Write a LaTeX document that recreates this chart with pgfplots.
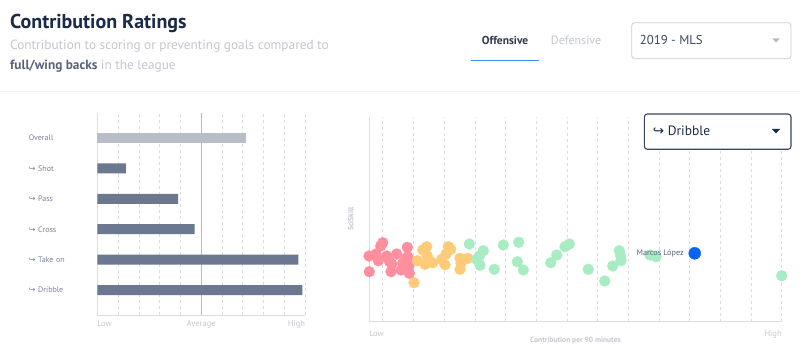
\documentclass[border=0pt]{standalone}
\usepackage{pgfplots}
\pgfplotsset{compat=1.18}
\usepackage{fontspec}
\setmainfont{PT Sans}
\newfontfamily\arrowfont{DejaVu Sans}
\newcommand{\hook}{{\arrowfont ↪}}
\definecolor{navy}{HTML}{1B2A47}
\definecolor{subgrey}{HTML}{C3C7D0}
\definecolor{boldgrey}{HTML}{5A6478}
\definecolor{labgrey}{HTML}{7B8499}
\definecolor{tickgrey}{HTML}{C3C7CF}
\definecolor{gridgrey}{HTML}{DADDE3}
\definecolor{avggrey}{HTML}{B5B9C2}
\definecolor{barslate}{HTML}{6B7890}
\definecolor{barlight}{HTML}{B8BDC8}
\definecolor{ptred}{HTML}{FF8F9F}
\definecolor{ptorange}{HTML}{FFCB78}
\definecolor{ptgreen}{HTML}{A8ECC4}
\definecolor{ptblue}{HTML}{0B63F6}
\definecolor{tabblue}{HTML}{3D8EF8}
\definecolor{boxborder}{HTML}{C8CDD8}
\definecolor{darkbox}{HTML}{3A4660}
\definecolor{sepgrey}{HTML}{F0F1F3}
\begin{document}
\begin{tikzpicture}[x=1pt,y=1pt]
\useasboundingbox (0,0) rectangle (800,361);
\fill[white] (0,0) rectangle (800,361);
% header
\node[anchor=base west, inner sep=0, text=navy, font=\fontsize{20}{24}\selectfont\bfseries] at (10,332.5) {Contribution Ratings};
\node[anchor=base west, inner sep=0, text=subgrey, font=\fontsize{13.3}{15}\selectfont] at (10,311) {Contribution to scoring or preventing goals compared to};
\node[anchor=base west, inner sep=0, text=subgrey, font=\fontsize{13.3}{15}\selectfont] at (10,291) {\textcolor{boldgrey}{\bfseries full/wing backs} in the league};
\node[anchor=base west, inner sep=0, text=darkbox!80!black, font=\fontsize{11.5}{13}\selectfont\bfseries] at (481.7,316) {Offensive};
\node[anchor=base west, inner sep=0, text=subgrey, font=\fontsize{12}{13}\selectfont] at (550.7,316) {Defensive};
\draw[tabblue, line width=1.6pt] (471,300.3) -- (539,300.3);
\draw[boxborder, line width=0.8pt, rounded corners=3pt] (631.7,302.3) rectangle (791,338.3);
\node[anchor=base west, inner sep=0, text=darkbox, font=\fontsize{12.8}{15}\selectfont] at (639.7,316) {2019 - MLS};
\fill[avggrey] (772.5,322.5) -- (779.5,322.5) -- (776,318.5) -- cycle;
\draw[sepgrey, line width=1.5pt] (0,269.5) -- (800,269.5);
% bar chart
\begin{axis}[name=bars, at={(97.3pt,46pt)}, anchor=south west, scale only axis,
  width=207.7pt, height=202pt,
  xmin=0, xmax=10, ymin=-0.82, ymax=5.82,
  axis lines=left, axis line style={-, draw=gridgrey, line width=0.8pt},
  xtick={0,5,10}, xticklabels={\makebox[0pt][l]{Low},\raisebox{-2pt}{Average},\makebox[0pt][r]{High}},
  minor xtick={1,2,3,4,6,7,8,9,10},
  xminorgrids, minor grid style={dashed, gridgrey, line width=0.6pt},
  extra x ticks={5}, extra x tick labels={},
  extra x tick style={grid=major, major grid style={solid, avggrey, line width=0.8pt}},
  major tick length=0pt, minor tick length=0pt,
  xticklabel style={font=\fontsize{8.5}{9}\selectfont, text=tickgrey, anchor=north, yshift=-2pt},
  ytick={0,1,2,3,4,5},
  yticklabels={{\hook\ Dribble},{\hook\ Take on},{\hook\ Cross},{\hook\ Pass},{\hook\ Shot},Overall},
  yticklabel style={font=\fontsize{8}{9}\selectfont, text=labgrey, anchor=east, inner sep=0pt, text width=68.3pt, align=left},
  clip=false]
\addplot[xbar, bar width=10pt, bar shift=0pt, fill=barlight, draw=none] coordinates {(7.16,5)};
\addplot[xbar, bar width=10pt, bar shift=0pt, fill=barslate, draw=none] coordinates {(1.38,4) (3.89,3) (4.68,2) (9.68,1) (9.87,0)};
\end{axis}
% scatter
\begin{axis}[at={(369.3pt,39.3pt)}, anchor=south west, scale only axis,
  width=412.4pt, height=205pt,
  xmin=0, xmax=412.4, ymin=0, ymax=205,
  axis lines=left, axis line style={-, draw=gridgrey, line width=0.8pt},
  xtick={0,412.4}, xticklabels={\makebox[0pt][l]{Low},\makebox[0pt][r]{High}},
  minor xtick={13.4,44.1,74.8,105.5,136.2,166.9,197.5,228.2,258.9,289.6,320.3,351.0,381.7,412.4},
  xminorgrids, minor grid style={dashed, gridgrey, line width=0.6pt},
  ytick=\empty,
  major tick length=0pt, minor tick length=0pt,
  xticklabel style={font=\fontsize{8.5}{9}\selectfont, text=tickgrey, anchor=north, yshift=-5pt},
  xlabel={Contribution per 90 minutes},
  xlabel style={font=\fontsize{7.5}{8}\selectfont\bfseries, text=tickgrey, at={(axis description cs:0.5,-0.093)}, anchor=center},
  ylabel={SciSkill},
  ylabel style={font=\fontsize{7.5}{8}\selectfont\bfseries, text=tickgrey, at={(axis description cs:-0.0451,0.5)}, anchor=center},
  clip=false]
\addplot[only marks, color=ptred, mark=*, mark size=5.4pt, mark options={solid}] coordinates {
(-0.3,65.7) (0,50) (6.7,67.7) (9,61) (11.4,75.7) (13.4,79) (17.4,65.7) (20,60.4) (22.4,57.7) (21.7,50)
(27.4,67.7) (31.7,51.7) (33.4,58.4) (36.7,63) (38,74.4) (38.4,65) (39.4,55) (40,48.4) (40.7,59)
};
\addplot[only marks, color=ptorange, mark=*, mark size=5.4pt, mark options={solid}] coordinates {
(44.7,39) (48,61) (53.4,71.7) (57.4,75) (55.7,57.4) (58,65.7) (63.4,59) (72.4,62.4) (75.7,57) (76.7,67.7)
(79,75) (81.4,72.4) (90.7,52.4) (90.7,63.4) (91.7,58.4) (98.4,63.4)
};
\addplot[only marks, color=ptgreen, mark=*, mark size=5.4pt, mark options={solid}] coordinates {
(100,77.7) (107.4,62.4) (110,65.7) (110.7,56.4) (114,71) (125,52.4) (134,76.7) (149.4,79.4) (148,60) (154,51.7)
(181.4,59) (187.4,66.7) (195.7,75) (200,77.7) (219,52.4) (235.4,40.7) (243.4,55.7) (250,71) (251.4,65.7) (251.7,61)
(280.7,66.7) (286.7,65) (412.4,46)
};
\addplot[only marks, color=ptblue, mark=*, mark size=6pt, mark options={solid}] coordinates {(325.4,68.4)};
\end{axis}
\node[anchor=east, inner sep=0pt, text=boldgrey, font=\fontsize{8.2}{9}\selectfont] at (684,107.7) {Marcos López};
% dropdown
\draw[darkbox, line width=1.1pt, rounded corners=3pt, fill=white] (644.3,211.7) rectangle (791,247);
\node[anchor=base west, inner sep=0, text=navy, font=\fontsize{13.5}{15}\selectfont] at (652.7,225) {\hook\ Dribble};
\fill[navy] (772,232) -- (780,232) -- (776,227.5) -- cycle;
\end{tikzpicture}
\end{document}
